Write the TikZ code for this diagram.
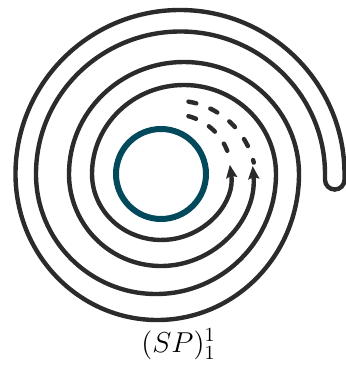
\documentclass[tikz,border=0pt]{standalone}
\usepackage{amsmath,amssymb}
\usepackage{tikz}
\usetikzlibrary{arrows.meta, calc}
\definecolor{Ink}{HTML}{2B2B2B}
\definecolor{Petrol}{HTML}{03495C}

\begin{document}
\begin{tikzpicture}[
    x=0.5pt, y=0.5pt,
    spir/.style={draw=Ink, line width=2.2pt, line cap=round},
    arr/.style={-{Stealth[length=6.5pt, width=5.5pt, inset=1pt]}},
    dsh/.style={draw=Ink, line width=2.2pt, line cap=round,
                dash pattern=on 4pt off 7.5pt},
    core/.style={draw=Petrol, line width=3pt}
  ]
    \useasboundingbox (0,0) rectangle (346,370);
    \coordinate (turn) at (334.75,180.5);
    \coordinate (mid) at (161,196);
    \coordinate (pc) at (175,188.5);
    \coordinate (qc) at (173.5,198);

    \draw[core] (mid) circle (45);

    % outer strand
    \draw[spir, arr] (turn) arc[start angle=270, end angle=360, radius=9.75]
      -- (344.5,196)
      arc[start angle=0, end angle=180, x radius=164.5, y radius=164]
      arc[start angle=180, end angle=360, x radius=141.75, y radius=146]
      arc[start angle=0, end angle=180, x radius=115, y radius=112]
      arc[start angle=180, end angle=275, radius=92]
      arc[start angle=275, end angle=365, radius=92];
    % inner strand
    \draw[spir, arr] (turn) arc[start angle=270, end angle=180, radius=9.75]
      -- (325,196)
      arc[start angle=0, end angle=180, x radius=144.5, y radius=142.5]
      arc[start angle=180, end angle=360, radius=120]
      arc[start angle=0, end angle=180, x radius=92, y radius=89]
      arc[start angle=180, end angle=278, x radius=69.25, y radius=66]
      arc[start angle=278, end angle=368, x radius=69.25, y radius=66];

    \draw[dsh, dash phase=2.7pt] (pc) ++(13.5:81)
      arc[start angle=13.5, end angle=81.5, radius=81];
    \draw[dsh] (qc) ++(21.5:57.8)
      arc[start angle=21.5, end angle=76, radius=57.8];

    \node[font=\Large, anchor=base] (lbl) at (178.5,18) {$(SP)_1^1$};
\end{tikzpicture}
\end{document}
